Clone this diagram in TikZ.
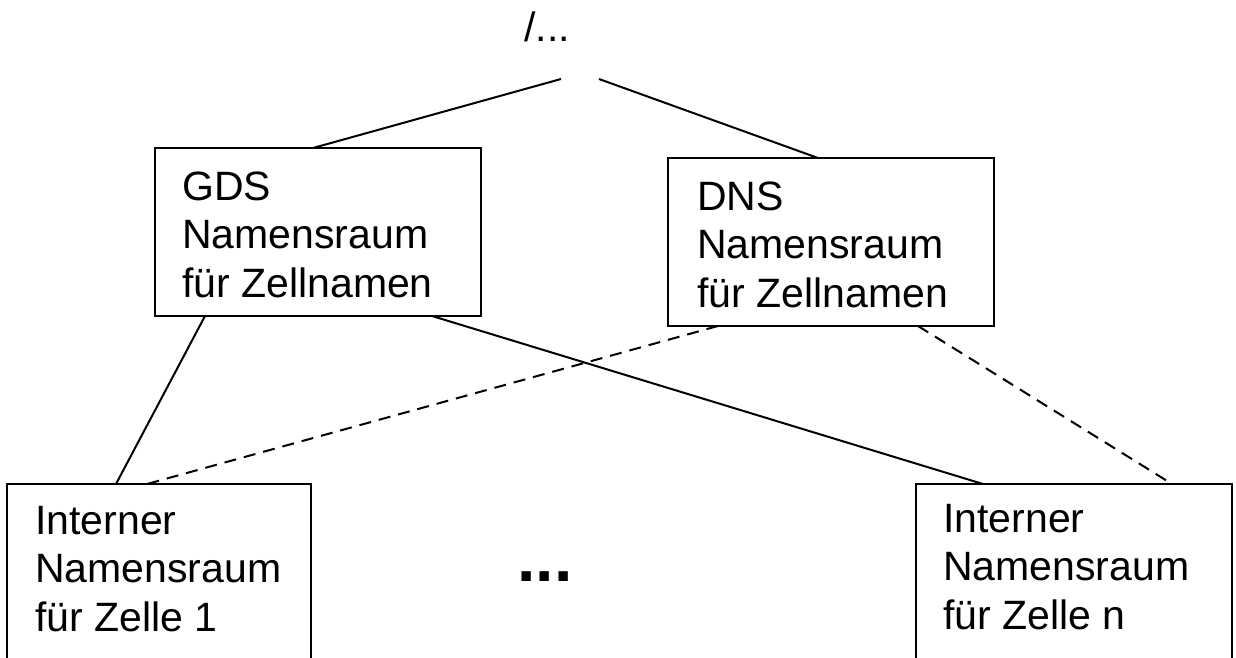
\documentclass[tikz,border=0pt]{standalone}
\usepackage{fontspec}
\setmainfont{Liberation Sans}
\usetikzlibrary{calc}
\begin{document}
\begin{tikzpicture}[x=1pt,y=-1pt,
  box/.style={draw, line width=2pt, rectangle, inner sep=0pt, outer sep=0pt, anchor=north west},
  txt/.style={font=\fontsize{41}{48.5}\selectfont, align=left, inner sep=0pt, anchor=base west},
  link/.style={line width=2pt},
  weak/.style={line width=2pt, dash pattern=on 12pt off 8pt}]
\useasboundingbox (0,0) rectangle (1236,658);
\clip (0,0) rectangle (1236,658);

% root of the name space
\node[txt] (root) at (524,42) {/...};
\coordinate (rootL) at (561,79);
\coordinate (rootR) at (599,79);

% global name spaces
\node[box, minimum width=326pt, minimum height=168pt] (gds) at (155,148) {};
\node[box, minimum width=326pt, minimum height=168pt] (dns) at (668,158) {};
% the base anchor of a three-line node sits on its last line
\node[txt] (gdsl) at ($(gds.north west)+(27,149)$) {GDS\\Namensraum\\für Zellnamen};
\node[txt] (dnsl) at ($(dns.north west)+(29,149)$) {DNS\\Namensraum\\für Zellnamen};

% cell name spaces (cut off at the bottom)
\node[box, minimum width=304pt, minimum height=260pt] (cell1) at (7,484) {};
\node[box, minimum width=316pt, minimum height=260pt] (celln) at (916,484) {};
\node[txt] (cell1l) at ($(cell1.north west)+(28,147)$) {Interner\\Namensraum\\für Zelle 1};
\node[txt] (cellnl) at ($(celln.north west)+(27,145)$) {Interner\\Namensraum\\für Zelle n};
\node[font=\bfseries\fontsize{66}{66}\selectfont, inner sep=0pt] (dots) at (545,577) {...};

% connections
\draw[link] (rootL) -- ([xshift=158pt]gds.north west);
\draw[link] (rootR) -- ([xshift=150pt]dns.north west);
\draw[link] ([xshift=50pt]gds.south west) -- ([xshift=109pt]cell1.north west);
\draw[link] ([xshift=277pt]gds.south west) -- ([xshift=67pt]celln.north west);
\draw[weak] ([xshift=50pt]dns.south west) -- ([xshift=140pt]cell1.north west);
\draw[weak] ([xshift=250pt]dns.south west) -- ([xshift=256pt]celln.north west);
\end{tikzpicture}
\end{document}
